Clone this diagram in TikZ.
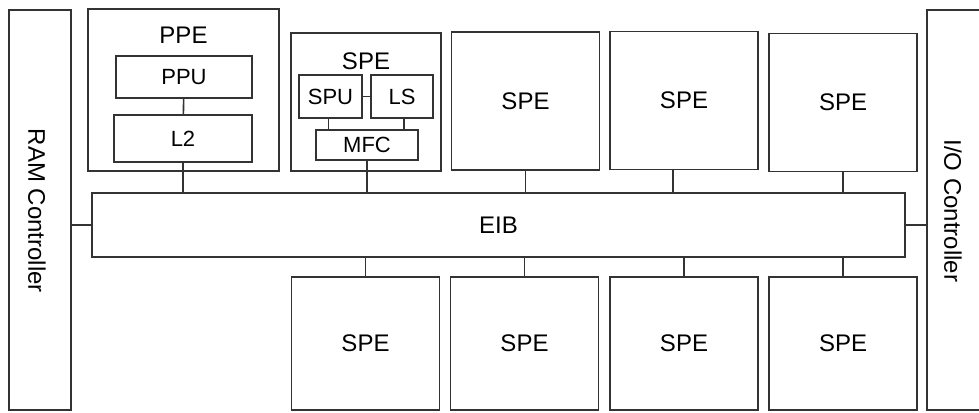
\documentclass[tikz,border=0pt]{standalone}
\usepackage{fontspec}
\setmainfont{Liberation Sans}
\usepackage{tikz}
\usetikzlibrary{positioning}

\begin{document}
\begin{tikzpicture}[x=1pt, y=-1pt,
box/.style={rectangle, draw=black!80, line width=1.6pt, inner sep=0pt, align=center,
font=\fontsize{24}{28}\selectfont}, sub/.style={box, font=\fontsize{22}{26}\selectfont},
lbl/.style={inner sep=0pt, font=\fontsize{24}{28}\selectfont}, link/.style={draw=black!80,
line width=1.6pt}, ctrl/.style={box, minimum width=62pt, minimum height=400pt},
spe/.style={box, minimum width=148pt, minimum height=138pt},
lspe/.style={box, minimum width=148pt, minimum height=133pt} ]
\useasboundingbox (0,0) rectangle (979,412);
\node[ctrl] (ram) at (40,210) {};
\node[lbl, rotate=-90] (ramlbl) at (37,211) {RAM Controller};
\node[ctrl] (io) at (958,210) {};
\node[lbl, rotate=-90] (iolbl) at (953,211) {I/O Controller};
\node[box, minimum width=813pt, minimum height=64pt] (eib) at (498.5,225) {EIB};
\node[box, minimum width=191pt, minimum height=162pt] (ppe) at (183.5,90) {};
\node[lbl] (ppelbl) at (183.5,35) {PPE};
\node[sub, minimum width=136pt, minimum height=42pt] (ppu) at (184,77) {PPU};
\node[sub, minimum width=138pt, minimum height=47pt] (l2) at (183,138.5) {L2};
\draw[link] (ppu) -- (l2);
\draw[link] (l2.south) -- (l2.south |- eib.north);
\node[box, minimum width=150pt, minimum height=138pt] (spe1) at (366,102) {};
\node[lbl] (spe1lbl) at (366,61) {SPE};
\node[sub, minimum width=63pt, minimum height=43pt] (spu) at (330.5,96.5) {SPU};
\node[sub, minimum width=62pt, minimum height=43pt] (ls) at (402,96.5) {LS};
\node[sub, minimum width=102pt, minimum height=30pt] (mfc) at (367,145) {MFC};
\draw[link] (spu) -- (ls);
\draw[link] ([xshift=-2pt]spu.south) -- ([xshift=-2pt]spu.south |- mfc.north);
\draw[link] ([xshift=2pt]ls.south) -- ([xshift=2pt]ls.south |- mfc.north);
\draw[link] (mfc.south) -- (mfc.south |- eib.north);
\node[spe] (spe2) at (525.5,101) {SPE};
\node[spe] (spe3) at (684,100.5) {SPE};
\node[spe] (spe4) at (843,102.5) {SPE};
\draw[link] (spe2.south) -- (spe2.south |- eib.north);
\draw[link] ([xshift=-11pt]spe3.south) -- ([xshift=-11pt]spe3.south |- eib.north);
\draw[link] (spe4.south) -- (spe4.south |- eib.north);
\foreach \n/\x in {5/365.5, 6/524.5, 7/684, 8/843} {
  \node[lspe] (spe\n) at (\x,343.5) {SPE};
  \draw[link] (spe\n.north) -- (spe\n.north |- eib.south);
}
\draw[link] (eib.west) -- (eib.west -| ram.east);
\draw[link] (eib.east) -- (eib.east -| io.west);
\end{tikzpicture}
\end{document}
